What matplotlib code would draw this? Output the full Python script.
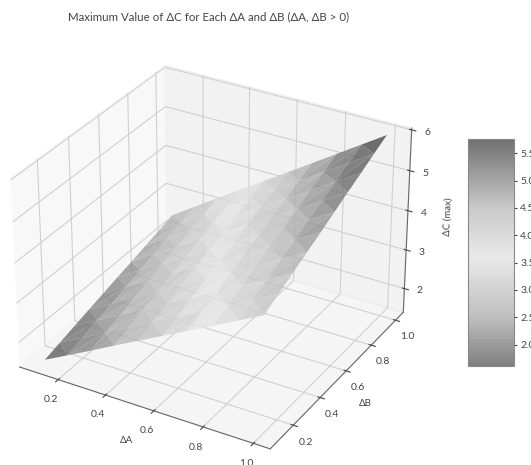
import numpy as np
import matplotlib
matplotlib.use("Agg")
import matplotlib.pyplot as plt
from matplotlib.colors import LinearSegmentedColormap

plt.rcParams['font.family'] = ['Lato', 'DejaVu Sans']
plt.rcParams['text.color'] = '#444444'
plt.rcParams['axes.labelcolor'] = '#444444'
plt.rcParams['xtick.color'] = '#444444'
plt.rcParams['ytick.color'] = '#444444'

delta_a = [0.1, 0.2, 0.3, 0.4, 0.5, 0.6, 0.7, 0.8, 0.9, 1.0]
delta_b = [0.1, 0.2, 0.3, 0.4, 0.5, 0.6, 0.7, 0.8, 0.9, 1.0]
delta_c = [
    [1.47, 1.78, 2.09, 2.41, 2.72, 3.03, 3.34, 3.65, 3.97, 4.28],
    [1.58, 1.90, 2.22, 2.54, 2.86, 3.18, 3.50, 3.82, 4.15, 4.47],
    [1.69, 2.02, 2.34, 2.68, 3.01, 3.33, 3.66, 3.99, 4.32, 4.65],
    [1.80, 2.13, 2.47, 2.81, 3.15, 3.48, 3.82, 4.16, 4.50, 4.84],
    [1.91, 2.25, 2.60, 2.95, 3.29, 3.63, 3.98, 4.33, 4.68, 5.02],
    [2.02, 2.37, 2.73, 3.08, 3.44, 3.79, 4.14, 4.50, 4.86, 5.21],
    [2.12, 2.49, 2.85, 3.21, 3.58, 3.94, 4.30, 4.66, 5.03, 5.40],
    [2.23, 2.61, 2.98, 3.35, 3.72, 4.09, 4.46, 4.83, 5.21, 5.58],
    [2.34, 2.72, 3.11, 3.48, 3.87, 4.24, 4.62, 5.00, 5.38, 5.77],
    [2.45, 2.84, 3.23, 3.62, 4.01, 4.39, 4.78, 5.17, 5.56, 5.95],
]
anchors = [(0.0, '#606060'), (0.215, '#b0b0b0'), (0.48, '#e4e4e4'), (0.70, '#bcbcbc'), (1.0, '#4c4c4c')]
cb_ticks = [2.0, 2.5, 3.0, 3.5, 4.0, 4.5, 5.0, 5.5]

W, H = 531, 465
fig = plt.figure(figsize=(W/100, H/100), dpi=100)
ax = fig.add_axes([-14/W, 1-477/H, 446/W, 446/H], projection='3d')
X, Y = np.meshgrid(delta_a, delta_b)
Z = np.array(delta_c)
cmap = LinearSegmentedColormap.from_list('g', anchors)
surf = ax.plot_trisurf(X.ravel(), Y.ravel(), Z.ravel(), cmap=cmap, alpha=0.8, linewidth=0, antialiased=True)
ax.set_xlabel('ΔA', fontsize=7, labelpad=-4)
ax.set_ylabel('ΔB', fontsize=7, labelpad=-4)
ax.set_zlabel('ΔC (max)', fontsize=7, labelpad=-3)
ax.set_xticks([0.2, 0.4, 0.6, 0.8, 1.0])
ax.set_yticks([0.2, 0.4, 0.6, 0.8, 1.0])
ax.set_zticks([2, 3, 4, 5, 6])
ax.tick_params(labelsize=7.5, pad=0)
ax.tick_params(axis='z', pad=-1)
for axis in (ax.xaxis, ax.yaxis, ax.zaxis):
    axis._axinfo['grid']['color'] = '#d0d0d0'
    axis._axinfo['grid']['linewidth'] = 0.8
    axis.line.set_color('#666666')
fig.text(209/W, 1-17/H, 'Maximum Value of ΔC for Each ΔA and ΔB (ΔA, ΔB > 0)', fontsize=8.3, ha='center', va='center')

cax = fig.add_axes([468/W, 1-366/H, 46/W, 227/H])
cb = fig.colorbar(surf, cax=cax)
cb.set_ticks(cb_ticks)
cb.ax.tick_params(labelsize=7.5, pad=2, length=2.5)
cb.outline.set_edgecolor('#888888')
fig.savefig('out.png', dpi=100)
